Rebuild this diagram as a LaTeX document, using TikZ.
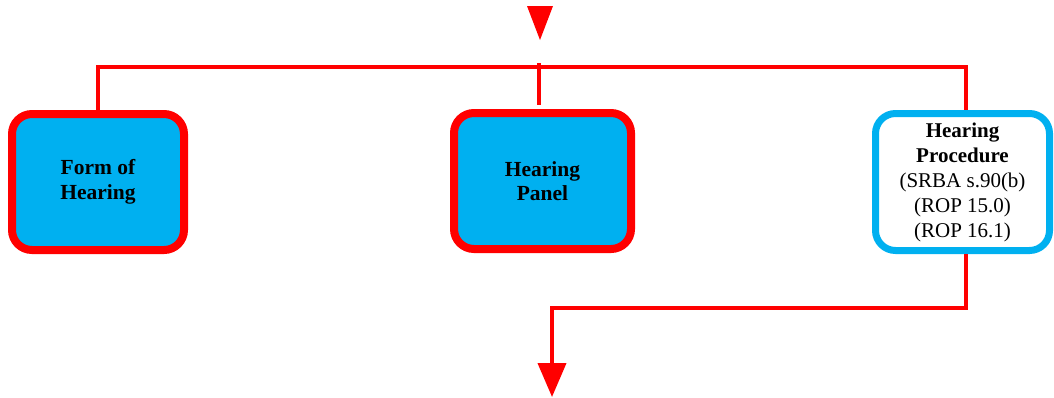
\documentclass[tikz,border=0pt]{standalone}
\usepackage{fontspec}
\setmainfont{Liberation Serif}
\usetikzlibrary{arrows.meta}
\definecolor{boxred}{RGB}{255,0,0}
\definecolor{boxcyan}{RGB}{0,176,240}
\tikzset{
  redbox/.style={draw=boxred, line width=8pt, fill=boxcyan, rounded corners=20pt,
    minimum height=136pt, align=center,
    font=\fontsize{21.5}{24.5}\selectfont\bfseries},
  cyanbox/.style={draw=boxcyan, line width=7pt, fill=white, rounded corners=20pt,
    minimum width=174pt, minimum height=137pt, align=center,
    font=\fontsize{21}{25}\selectfont},
  conn/.style={draw=boxred, line width=4pt},
}
\begin{document}
\begin{tikzpicture}[x=1pt,y=-1pt]
\useasboundingbox (0,0) rectangle (1054,397);
% top arrowhead
\coordinate (topa) at (527,6);
\coordinate (topb) at (553,6);
\coordinate (topc) at (540,40);
\fill[boxred] (topa) -- (topb) -- (topc) -- cycle;
% boxes
\node[redbox, minimum width=172pt] (form) at (98,182) {Form of\\Hearing};
\node[redbox, minimum width=177pt] (panel) at (542.5,181) {Hearing\\Panel};
\node[cyanbox] (proc) at (962.5,182) {\textbf{Hearing}\\\textbf{Procedure}\\(SRBA s.90(b)\\(ROP 15.0)\\(ROP 16.1)};
% connectors
\coordinate (hl) at (98,67);
\coordinate (hr) at (966,67);
\coordinate (hm) at (539,63);
\draw[conn] (form.north) |- (hl) -- (hr) -- (hr |- proc.north);
\draw[conn] (hm) -- (539,105);
\coordinate (end) at (552,397);
\draw[conn, -{Triangle[length=34pt,width=28pt]}] (966,254) -- (966,308) -| (end);
\end{tikzpicture}
\end{document}
